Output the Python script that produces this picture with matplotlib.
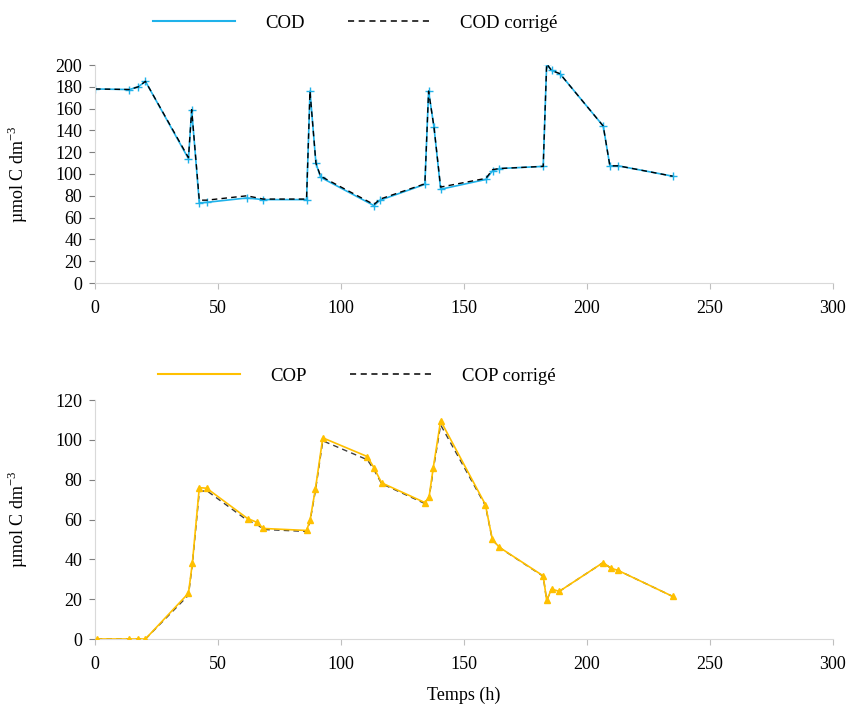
import numpy as np
import matplotlib
matplotlib.use("Agg")
import matplotlib.pyplot as plt
from matplotlib.lines import Line2D

plt.rcParams['font.family'] = ['Liberation Serif', 'DejaVu Serif']
plt.rcParams['font.size'] = 13
plt.rcParams['mathtext.fontset'] = 'custom'
plt.rcParams['mathtext.rm'] = 'Liberation Serif'

# COD (top panel)
t_cod = [0, 14, 17.6, 20.5, 38, 39.3, 42.4, 45.4, 61.7, 68.4, 86, 87.4, 89.8, 91.7,
         113.4, 115.9, 134.1, 135.6, 137.8, 140.5, 158.9, 161.6, 164.3, 182.2, 183.6,
         185.6, 189, 206.6, 209.3, 212.7, 234.8]
cod = [178, 177.5, 180, 185, 114, 159, 73.5, 74, 78, 76.5, 76.5, 176, 110, 97,
       71, 76, 90.5, 176, 143, 86, 95, 103, 105, 107, 201,
       195, 192, 144, 107.5, 107.5, 98]
cod_corr = [178, 177.5, 180, 185, 115, 159, 76, 76, 80, 77, 77, 176, 110, 98,
            72, 77, 91, 176, 143, 88, 96, 104, 105, 107, 201,
            195, 192, 144, 107.5, 107.5, 98]

# COP (bottom panel)
t_cop = [0.7, 14, 17.3, 20.5, 38, 39.6, 42.4, 45.4, 62, 66, 68.4, 86, 87.4, 89.6, 92.6,
         110.7, 113.4, 116.5, 134.1, 135.8, 137.5, 140.5, 158.7, 161.5, 164.3, 182.2,
         183.6, 185.6, 188.7, 206.6, 209.6, 212.7, 234.8]
cop = [0, 0, 0, 0, 23, 38.4, 76, 75.7, 60.5, 58.5, 55.5, 54.5, 59.5, 75.4, 101,
       91.6, 86, 78.4, 68.5, 71.2, 86, 109.6, 67.5, 50.1, 46.1, 31.7,
       19.4, 25.1, 23.9, 38.4, 35.6, 34.4, 21.4]
cop_corr = [0, 0, 0, 0, 22, 38, 74, 74.5, 59.5, 57.5, 55, 54, 59, 74.5, 99.5,
            90, 85, 78, 68, 70.5, 85, 107.5, 67, 50, 46, 31.5,
            19.4, 25, 23.9, 38.4, 35.6, 34.4, 21.4]

blue = '#1FB2EA'
gold = '#FFC000'
dash = (0, (4, 3))
ylabel = r'µmol C dm$^{\mathrm{-3}}$'

fig = plt.figure(figsize=(8.52, 7.06), dpi=100)
ax1 = fig.add_axes([95/852, 1-283/706, 738/852, 218/706])
ax2 = fig.add_axes([95/852, 1-639/706, 738/852, 239/706])


def style(ax, ymax):
    ax.set_xlim(0, 300)
    ax.set_ylim(0, ymax)
    ax.set_xticks(np.arange(0, 301, 50))
    ax.set_yticks(np.arange(0, ymax + 1, 20))
    for s in ['top', 'right']:
        ax.spines[s].set_visible(False)
    for s in ['left', 'bottom']:
        ax.spines[s].set_color('#d9d9d9')
        ax.spines[s].set_linewidth(0.8)
    ax.tick_params(axis='x', length=4, color='#bfbfbf', pad=8, labelsize=13)
    ax.tick_params(axis='y', length=4, color='#7f7f7f', pad=5, labelsize=13)
    # y label placed in figure coords
    bb = ax.get_position()
    fig.text(18/852, (bb.y0 + bb.y1) / 2, ylabel, rotation=90, ha='center', va='center',
             fontsize=13)


def legend(ax, color, names, xc, yc):
    handles = [Line2D([], [], color=color, lw=1.5),
               Line2D([], [], color='black', lw=1.1, linestyle=dash)]
    ax.legend(handles, names, loc='center', bbox_to_anchor=(xc/852, 1-yc/706),
              bbox_transform=fig.transFigure, ncol=2, frameon=False, handlelength=4.4,
              handletextpad=1.6, columnspacing=2.3, fontsize=13.5)


ax1.plot(t_cod, cod, '-', color=blue, lw=1.2, marker='+', ms=6, mew=1.0)
ax1.plot(t_cod, cod_corr, linestyle=dash, color='black', lw=1.0)
style(ax1, 200)
legend(ax1, blue, ['COD', 'COD corrigé'], 355, 23)

ax2.plot(t_cop, cop_corr, linestyle=dash, color='#404040', lw=1.0, zorder=2)
ax2.plot(t_cop, cop, '-', color=gold, lw=1.2, marker='^', ms=4, zorder=3)
style(ax2, 120)
legend(ax2, gold, ['COP', 'COP corrigé'], 357, 376)
ax2.set_xlabel('Temps (h)', fontsize=13)
ax2.xaxis.set_label_coords(0.5, -0.2)

fig.savefig('out.png', dpi=100)
